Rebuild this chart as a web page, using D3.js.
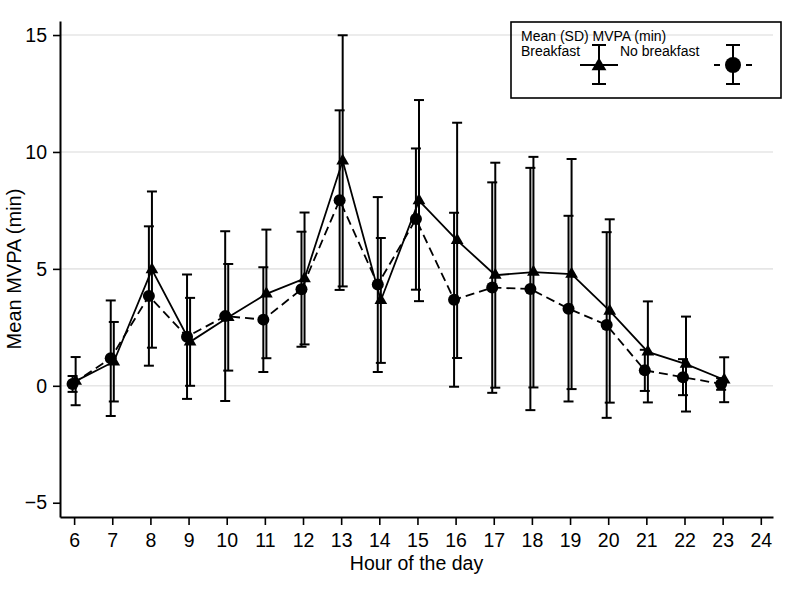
<!DOCTYPE html>
<html>
<head>
<meta charset="utf-8">
<script src="https://cdn.jsdelivr.net/npm/d3@7"></script>
<style>
  html, body { margin: 0; padding: 0; background: #fff; }
  svg { display: block; }
  text { font-family: "Liberation Sans", Arial, sans-serif; fill: #000; }
</style>
</head>
<body>
<svg id="chart" width="797" height="600"></svg>
<script>
// ---- data ----
const hours = [6, 7, 8, 9, 10, 11, 12, 13, 14, 15, 16, 17, 18, 19, 20, 21, 22, 23];
const breakfastMean = [0.2, 1.03, 4.97, 1.88, 2.93, 3.93, 4.59, 9.62, 3.65, 7.92, 6.22, 4.73, 4.86, 4.78, 3.2, 1.45, 0.93, 0.26];
const breakfastSD   = [1.03, 1.7, 3.34, 1.88, 2.28, 2.75, 2.82, 5.37, 2.67, 4.3, 5.03, 4.81, 4.93, 4.92, 3.92, 2.16, 2.03, 0.96];
const noBreakfastMean = [0.08, 1.18, 3.84, 2.1, 2.98, 2.83, 4.13, 7.94, 4.33, 7.13, 3.68, 4.2, 4.14, 3.3, 2.6, 0.66, 0.37, 0.08];
const noBreakfastSD   = [0.34, 2.47, 2.98, 2.66, 3.63, 2.24, 2.46, 3.84, 3.74, 3.02, 3.72, 4.5, 5.18, 3.97, 3.97, 0.88, 0.77, 0.25];
const xTicks = [6, 7, 8, 9, 10, 11, 12, 13, 14, 15, 16, 17, 18, 19, 20, 21, 22, 23, 24];
const yTicks = [-5, 0, 5, 10, 15];
const gridValues = [0, 5, 10, 15];
const xTitle = "Hour of the day";
const yTitle = "Mean MVPA (min)";
const legendTitle = "Mean (SD) MVPA (min)";
const seriesNames = ["Breakfast", "No breakfast"];

// ---- layout ----
const svg = d3.select("#chart");
const x = d3.scaleLinear().domain([5.63, 24.32]).range([60, 773]);
const y = d3.scaleLinear().domain([-5.61, 15.6]).range([517, 21]);
const offset = 0.04;

const series = [
  { name: seriesNames[0], mean: breakfastMean, sd: breakfastSD, dx: offset, dash: null, marker: "tri" },
  { name: seriesNames[1], mean: noBreakfastMean, sd: noBreakfastSD, dx: -offset, dash: "9,5", marker: "circle" }
];

// gridlines
svg.append("g").selectAll("line").data(gridValues).join("line")
  .attr("x1", x.range()[0]).attr("x2", x.range()[1])
  .attr("y1", d => y(d)).attr("y2", d => y(d))
  .attr("stroke", "#e6e6e6").attr("stroke-width", 1.6);

// axes
const yAxis = d3.axisLeft(y).tickValues(yTicks).tickSize(7).tickSizeOuter(0).tickPadding(6);
const gy = svg.append("g").attr("transform", `translate(${x.range()[0]},0)`).call(yAxis);
const xAxis = d3.axisBottom(x).tickValues(xTicks).tickSize(8).tickSizeOuter(0).tickPadding(8);
const gx = svg.append("g").attr("transform", `translate(0,${y.range()[0]})`).call(xAxis);
[gx, gy].forEach(g => {
  g.select(".domain").attr("stroke", "#000").attr("stroke-width", 2);
  g.selectAll(".tick line").attr("stroke", "#000").attr("stroke-width", 1.6);
  g.selectAll(".tick text").attr("font-size", 19.5).attr("font-family", "'Liberation Sans', Arial, sans-serif").attr("fill", "#000");
});

// titles
svg.append("text").attr("x", (x.range()[0] + x.range()[1]) / 2).attr("y", 570)
  .attr("text-anchor", "middle").attr("font-size", 19.5).text(xTitle);
svg.append("text").attr("transform", `translate(21,${(y.range()[0] + y.range()[1]) / 2}) rotate(-90)`)
  .attr("text-anchor", "middle").attr("font-size", 20).text(yTitle);

// lines
series.forEach(s => {
  const line = d3.line().x((d, i) => x(hours[i] + s.dx)).y(d => y(d));
  svg.append("path").datum(s.mean).attr("d", line)
    .attr("fill", "none").attr("stroke", "#000").attr("stroke-width", 1.8)
    .attr("stroke-dasharray", s.dash);
});

// error bars
const capW = 10;
series.forEach(s => {
  const g = svg.append("g").attr("stroke", "#000").attr("stroke-width", 2);
  hours.forEach((h, i) => {
    const cx = x(h + s.dx);
    const lo = y(s.mean[i] - s.sd[i]), hi = y(s.mean[i] + s.sd[i]);
    g.append("line").attr("x1", cx).attr("x2", cx).attr("y1", lo).attr("y2", hi);
    g.append("line").attr("x1", cx - capW / 2).attr("x2", cx + capW / 2).attr("y1", lo).attr("y2", lo);
    g.append("line").attr("x1", cx - capW / 2).attr("x2", cx + capW / 2).attr("y1", hi).attr("y2", hi);
  });
});

// markers
const tri = d3.symbol().type(d3.symbolTriangle).size(70);
series.forEach(s => {
  const g = svg.append("g");
  if (s.marker === "tri") {
    g.selectAll("path").data(s.mean).join("path")
      .attr("d", tri)
      .attr("transform", (d, i) => `translate(${x(hours[i] + s.dx)},${y(d)})`)
      .attr("fill", "#000");
  } else {
    g.selectAll("circle").data(s.mean).join("circle")
      .attr("cx", (d, i) => x(hours[i] + s.dx)).attr("cy", d => y(d))
      .attr("r", 6).attr("fill", "#000");
  }
});

// legend
const lg = svg.append("g");
lg.append("rect").attr("x", 511).attr("y", 22).attr("width", 270).attr("height", 76)
  .attr("fill", "none").attr("stroke", "#000").attr("stroke-width", 1.6);
lg.append("text").attr("x", 521).attr("y", 40.5).attr("font-size", 14).text(legendTitle);
lg.append("text").attr("x", 521).attr("y", 56).attr("font-size", 14).text(seriesNames[0]);
lg.append("text").attr("x", 620).attr("y", 56).attr("font-size", 14).text(seriesNames[1]);

function legendSymbol(cx, s) {
  const g = lg.append("g").attr("stroke", "#000").attr("stroke-width", 2);
  g.append("line").attr("x1", cx).attr("x2", cx).attr("y1", 45).attr("y2", 84);
  g.append("line").attr("x1", cx - 7).attr("x2", cx + 7).attr("y1", 45).attr("y2", 45);
  g.append("line").attr("x1", cx - 7).attr("x2", cx + 7).attr("y1", 84).attr("y2", 84);
  g.append("line").attr("x1", cx - 19).attr("x2", cx + 19).attr("y1", 65).attr("y2", 65)
    .attr("stroke-dasharray", s.dash ? "6,26" : null);
  if (s.marker === "tri") {
    lg.append("path").attr("d", d3.symbol().type(d3.symbolTriangle).size(95))
      .attr("transform", `translate(${cx},${66})`).attr("fill", "#000");
  } else {
    lg.append("circle").attr("cx", cx).attr("cy", 65).attr("r", 8).attr("fill", "#000");
  }
}
legendSymbol(599, series[0]);
legendSymbol(733, series[1]);
</script>
</body>
</html>
